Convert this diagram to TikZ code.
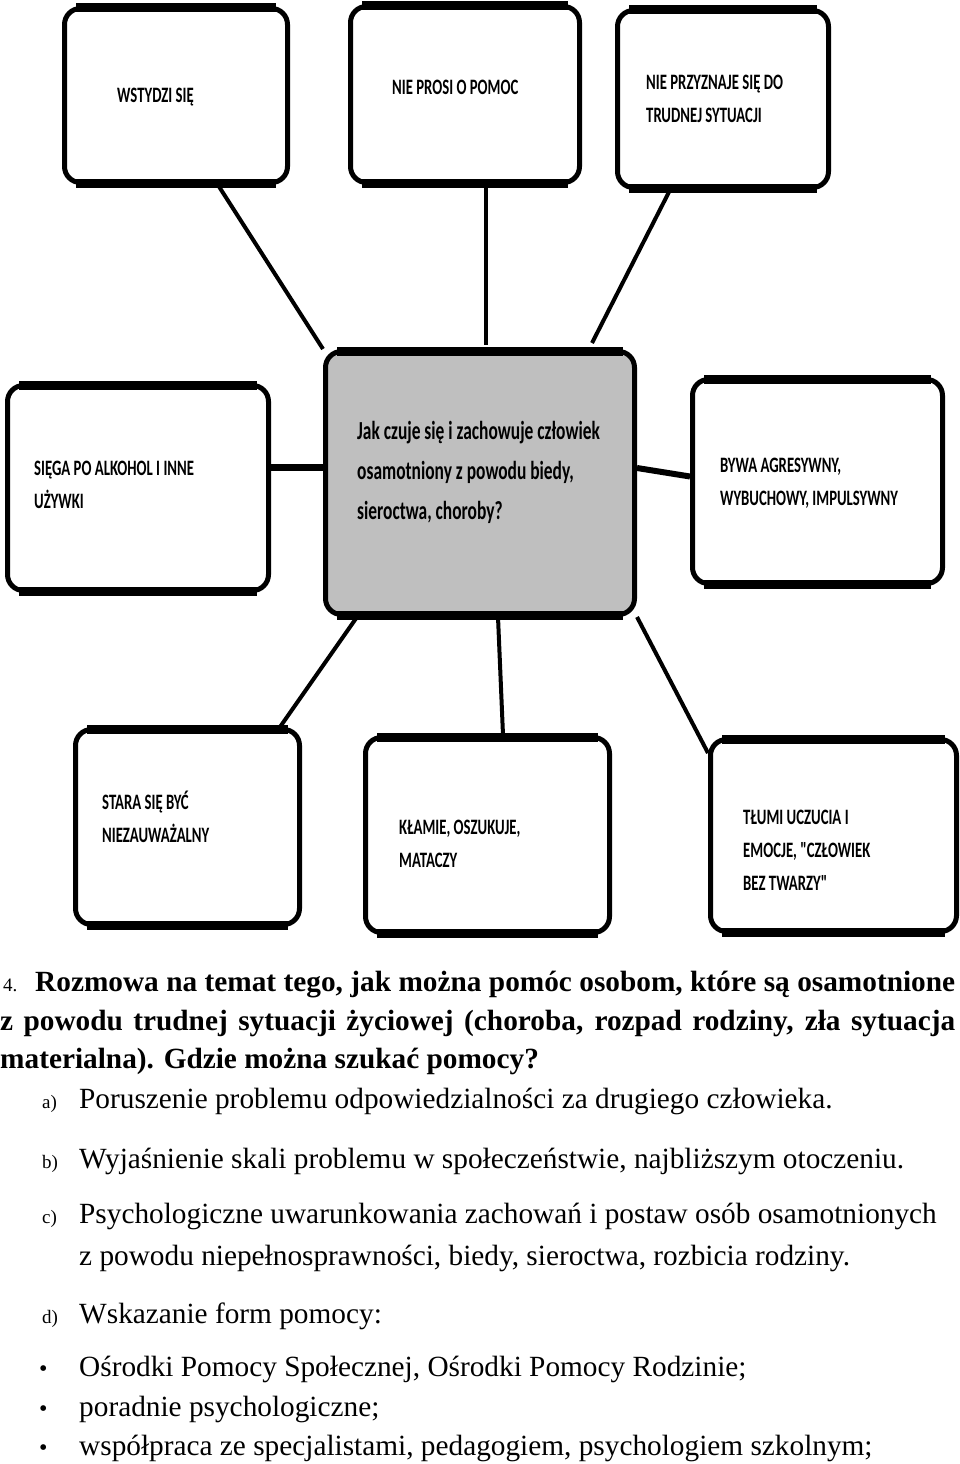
\documentclass[tikz,border=0pt]{standalone}
\usepackage{fontspec}
\setmainfont{Liberation Serif}
\newfontfamily\boxfont[FakeStretch=0.67]{Carlito}
\usetikzlibrary{positioning}

\begin{document}
\begin{tikzpicture}[
    x=1pt, y=-1pt,
    box/.style={draw, fill=white, line width=5pt, rounded corners=16pt, inner sep=0pt},
    centre/.style={box, fill=black!25},
    band/.style={line width=9pt},
    link/.style={line width=4pt},
    boxtext/.style={anchor=west, align=left, inner sep=0pt, font=\boxfont\bfseries\fontsize{22}{33}\selectfont},
    ctext/.style={boxtext, font=\boxfont\bfseries\fontsize{26}{40}\selectfont},
    body/.style={anchor=base west, inner sep=0pt, font=\fontsize{29.3}{40}\selectfont},
    head/.style={body, font=\bfseries\fontsize{29.3}{38}\selectfont},
    lbl/.style={body, font=\fontsize{19}{24}\selectfont},
    dot/.style={body, font=\fontsize{24}{24}\selectfont},
  ]
    \useasboundingbox (0,0) rectangle (960,1464);

    \node[box, minimum width=223pt, minimum height=174pt] (shame) at (176,95.5) {};
    \node[box, minimum width=229pt, minimum height=176pt] (nohelp) at (465,94.5) {};
    \node[box, minimum width=211pt, minimum height=177pt] (denial) at (723,99) {};
    \node[centre, minimum width=309pt, minimum height=263pt] (question) at (480,483) {};
    \node[box, minimum width=261pt, minimum height=205pt] (alcohol) at (138,488) {};
    \node[box, minimum width=250pt, minimum height=204pt] (aggression) at (817.5,481.5) {};
    \node[box, minimum width=224pt, minimum height=195pt] (hidden) at (187.5,827) {};
    \node[box, minimum width=244pt, minimum height=195pt] (lies) at (487.5,835) {};
    \node[box, minimum width=246pt, minimum height=192pt] (masks) at (833.5,835.5) {};

    \foreach \n in {shame,nohelp,denial,question,alcohol,aggression,hidden,lies,masks}{
      \draw[band] ([xshift=14pt,yshift=-2pt]\n.north west) -- ([xshift=-14pt,yshift=-2pt]\n.north east);
      \draw[band] ([xshift=14pt,yshift=2pt]\n.south west) -- ([xshift=-14pt,yshift=2pt]\n.south east);
    }

    \node[boxtext] (shametxt) at (117,97) {WSTYDZI SIĘ};
    \node[boxtext] (nohelptxt) at (392,87) {NIE PROSI O POMOC};
    \node[boxtext] (denialtxt) at (646,98.5) {NIE PRZYZNAJE SIĘ DO\\TRUDNEJ SYTUACJI};
    \node[ctext] (questiontxt) at (357,472.5) {Jak czuje się i zachowuje człowiek\\osamotniony z powodu biedy,\\sieroctwa, choroby?};
    \node[boxtext] (alcoholtxt) at (34,484.5) {SIĘGA PO ALKOHOL I INNE\\UŻYWKI};
    \node[boxtext] (aggressiontxt) at (720,483) {BYWA AGRESYWNY,\\WYBUCHOWY, IMPULSYWNY};
    \node[boxtext] (hiddentxt) at (102,816.5) {STARA SIĘ BYĆ\\NIEZAUWAŻALNY};
    \node[boxtext] (liestxt) at (399,843.5) {KŁAMIE, OSZUKUJE,\\MATACZY};
    \node[boxtext] (maskstxt) at (743,850) {TŁUMI UCZUCIA I\\EMOCJE, "CZŁOWIEK\\BEZ TWARZY"};

    \draw[link] ([xshift=42pt]shame.south) -- (question.north west);
    \draw[link] ([xshift=6pt]question.north |- nohelp.south) -- ([xshift=6pt,yshift=4pt]question.north);
    \draw[link] ([xshift=-53pt]denial.south) -- ([xshift=112pt,yshift=6pt]question.north);
    \draw[link, line width=7pt] ([yshift=21pt]alcohol.east) -- ([yshift=16pt]question.west);
    \draw[link, line width=6pt] ([yshift=15pt]question.east) -- ([yshift=5pt]aggression.west);
    \draw[link] ([xshift=34pt]question.south west) -- ([xshift=-22pt]hidden.north east);
    \draw[link] ([xshift=18pt]question.south) -- ([xshift=15.5pt]lies.north);
    \draw[link] (question.south east) -- ([yshift=-16pt]masks.north west);

    \node[lbl] (num) at (3,991) {4.};
    \node[head] (line1) at (35,991) {\makebox[920pt][s]{Rozmowa na temat tego, jak można pomóc osobom, które są osamotnione}};
    \node[head] (line2) at (0,1030) {\makebox[955pt][s]{z powodu trudnej sytuacji życiowej (choroba, rozpad rodziny, zła sytuacja}};
    \node[head] (line3) at (0,1068) {materialna). Gdzie można szukać pomocy?};

    \node[lbl] (pa) at (42,1108) {a)};
    \node[body] (ta) at (79,1108) {Poruszenie problemu odpowiedzialności za drugiego człowieka.};
    \node[lbl] (pb) at (42,1168) {b)};
    \node[body] (tb) at (79,1168) {Wyjaśnienie skali problemu w społeczeństwie, najbliższym otoczeniu.};
    \node[lbl] (pc) at (42,1223) {c)};
    \node[body] (tc) at (79,1223) {Psychologiczne uwarunkowania zachowań i postaw osób osamotnionych};
    \node[body] (tc2) at (79,1265) {z powodu niepełnosprawności, biedy, sieroctwa, rozbicia rodziny.};
    \node[lbl] (pd) at (42,1323) {d)};
    \node[body] (td) at (79,1323) {Wskazanie form pomocy:};

    \node[dot] (b1) at (39,1376) {•};
    \node[body] (t1) at (79,1376) {Ośrodki Pomocy Społecznej, Ośrodki Pomocy Rodzinie;};
    \node[dot] (b2) at (39,1416) {•};
    \node[body] (t2) at (79,1416) {poradnie psychologiczne;};
    \node[dot] (b3) at (39,1455) {•};
    \node[body] (t3) at (79,1455) {współpraca ze specjalistami, pedagogiem, psychologiem szkolnym;};
\end{tikzpicture}
\end{document}
